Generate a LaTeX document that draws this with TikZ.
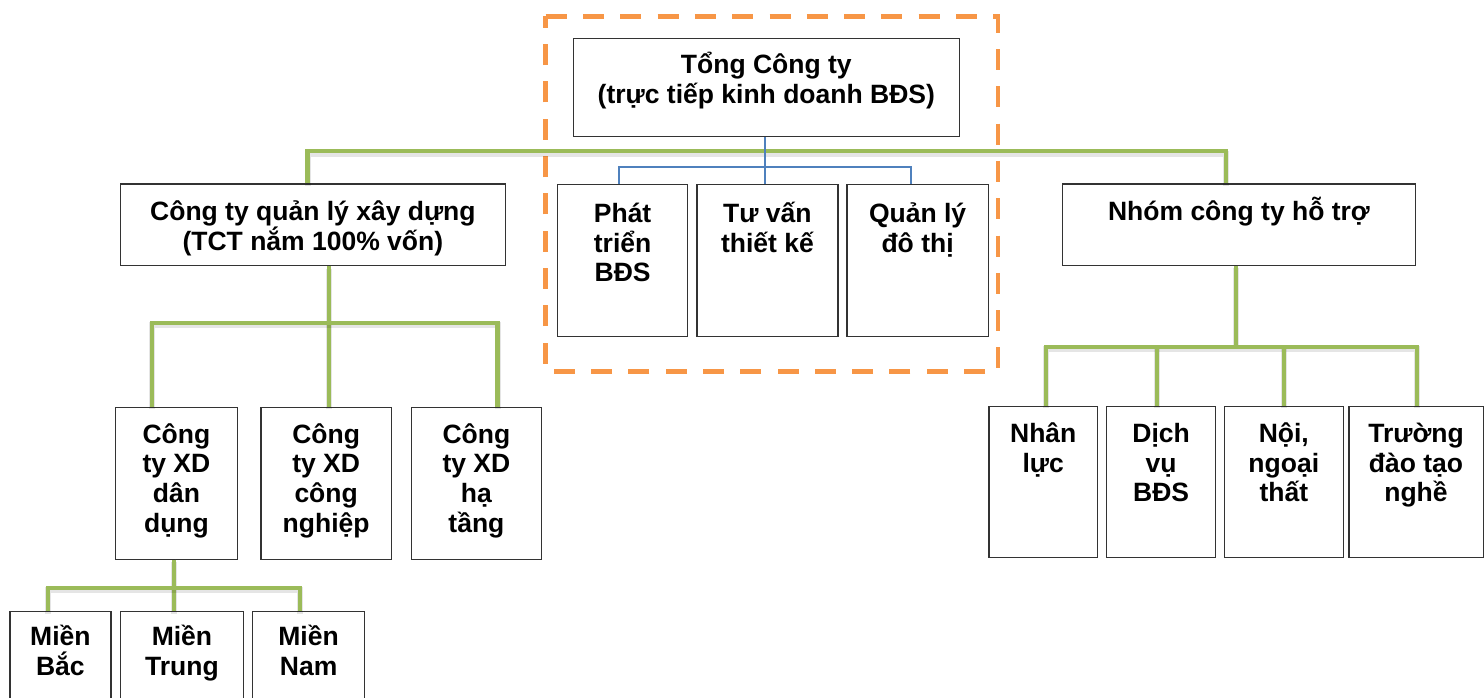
\documentclass[tikz,border=0pt]{standalone}
\usepackage{fontspec}
\setmainfont{Liberation Sans}
\definecolor{olgreen}{HTML}{9BBB59}
\definecolor{olblue}{HTML}{4F81BD}
\definecolor{olorange}{HTML}{F79646}
\definecolor{boxline}{HTML}{333333}

% box with top-aligned, centred text: name, x1, y1, x2, y2, first baseline, text
\newcommand\orgbox[7]{%
  \pgfmathsetlengthmacro\bw{#4-#2}%
  \pgfmathsetlengthmacro\bh{#5-#3}%
  \node[unitbox] (#1) at (#2,#3)
    {\parbox[c][\bh][t]{\bw}{\lineskiplimit=-100pt\centering\rule{0pt}{#6pt}#7\par}};%
}

\tikzset{
  unitbox/.style={draw=boxline, line width=1.2pt, fill=white, inner sep=0pt,
    anchor=north west, font=\fontsize{26.5}{29.8}\selectfont\bfseries},
  gline/.style={draw=olgreen, line width=4.3pt,
    preaction={draw=black, draw opacity=0.10, line width=6pt,
      transform canvas={yshift=-2.5pt}}},
  bline/.style={draw=olblue, line width=2pt},
  groupframe/.style={draw=olorange, line width=4.8pt, dash pattern=on 21pt off 16.3pt}
}

\begin{document}
\begin{tikzpicture}[x=1pt, y=-1pt]
\useasboundingbox (0,0) rectangle (1484,697);
\clip (0,0) rectangle (1484,697);
\fill[white] (0,0) rectangle (1484,697);

% dashed frame around the head office group
\draw[groupframe] (545.7,16.3) -- (997.9,16.3) -- (997.9,371.8) -- (545.7,371.8) -- cycle;

% boxes
\orgbox{tct}{572.7}{38}{958.7}{135.7}{34.7}{Tổng Công ty\\(trực tiếp kinh doanh BĐS)}
\orgbox{ctql}{119.8}{183.3}{504.8}{264.8}{36.7}{Công ty quản lý xây dựng\\(TCT nắm 100\% vốn)}
\orgbox{nhom}{1061.7}{183.3}{1415}{264.7}{36.7}{Nhóm công ty hỗ trợ}
\orgbox{pt}{557}{184}{687}{335.5}{37.7}{Phát\\triển\\BĐS}
\orgbox{tv}{696.3}{184}{837.3}{335.5}{37.7}{Tư vấn\\thiết kế}
\orgbox{ql}{846.3}{184}{987.7}{335.5}{37.7}{Quản lý\\đô thị}
\orgbox{xda}{115}{406.5}{236.7}{558.5}{36}{Công\\ty XD\\dân\\dụng}
\orgbox{xdb}{260.4}{406.5}{390.7}{558.5}{36}{Công\\ty XD\\công\\nghiệp}
\orgbox{xdc}{410.7}{406.5}{541}{558.5}{36}{Công\\ty XD\\hạ\\tầng}
\orgbox{mb}{9.3}{611}{110.3}{720}{34}{Miền\\Bắc}
\orgbox{mt}{120}{611}{242.7}{720}{34}{Miền\\Trung}
\orgbox{mn}{252}{611}{364}{720}{34}{Miền\\Nam}
\orgbox{nl}{988.3}{405.7}{1097}{557}{36}{Nhân\\lực}
\orgbox{dv}{1106}{405.7}{1215}{557}{36}{Dịch\\vụ\\BĐS}
\orgbox{nt}{1223.7}{405.7}{1342.7}{557}{36}{Nội,\\ngoại\\thất}
\orgbox{tr}{1348.3}{405.7}{1482.5}{557}{36}{Trường\\đào tạo\\nghề}

% bus points
\coordinate (mainL) at (307.5,151);
\coordinate (mainR) at (1226,151);
\coordinate (qa) at (151.8,322.7);
\coordinate (qb) at (329.3,322.7);
\coordinate (qc) at (497.5,322.7);
\coordinate (ma) at (48.3,587.7);
\coordinate (mm) at (174,587.7);
\coordinate (mc) at (300,587.7);
\coordinate (ha) at (1045.7,346.7);
\coordinate (hb) at (1156.7,346.7);
\coordinate (hs) at (1236.3,346.7);
\coordinate (hc) at (1283.7,346.7);
\coordinate (hd) at (1417.3,346.7);
\coordinate (ua) at (619,167.3);
\coordinate (ub) at (765.3,167.3);
\coordinate (uc) at (910.7,167.3);

% green connectors
\draw[gline] (ctql.north -| mainL) |- (mainR) -- (nhom.north -| mainR);
\draw[gline] (ctql.south -| qb) -- (qb) -- (xdb.north -| qb);
\draw[gline] (xda.north -| qa) |- (qc) -- (xdc.north -| qc);
\draw[gline] (xda.south -| mm) -- (mm) -- (mt.north -| mm);
\draw[gline] (mb.north -| ma) |- (mc) -- (mn.north -| mc);
\draw[gline] (nhom.south -| hs) -- (hs);
\draw[gline] (nl.north -| ha) |- (hd) -- (tr.north -| hd);
\draw[gline] (hb) -- (dv.north -| hb);
\draw[gline] (hc) -- (nt.north -| hc);

% blue connectors
\draw[bline] (tct.south -| ub) -- (tv.north -| ub);
\draw[bline] (pt.north -| ua) |- (uc) -- (ql.north -| uc);
\end{tikzpicture}
\end{document}
